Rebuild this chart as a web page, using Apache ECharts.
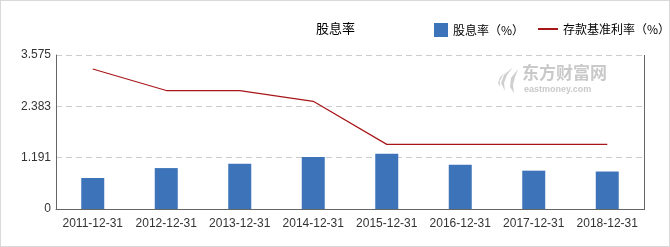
<!DOCTYPE html>
<html>
<head>
<meta charset="utf-8">
<script src="https://cdn.jsdelivr.net/npm/echarts@6/dist/echarts.min.js"></script>
<style>
  html, body { margin: 0; padding: 0; background: #fff; }
  #wrap { width: 668px; height: 245px; border: 1px solid #d9d9d9; }
  #chart { width: 668px; height: 245px; }
</style>
</head>
<body>
<div id="wrap"><div id="chart"></div></div>
<script>
const categories = ['2011-12-31','2012-12-31','2013-12-31','2014-12-31','2015-12-31','2016-12-31','2017-12-31','2018-12-31'];
const dividendYield = [0.72, 0.95, 1.05, 1.21, 1.28, 1.03, 0.89, 0.87];
const depositRate = [3.25, 2.75, 2.75, 2.5, 1.5, 1.5, 1.5, 1.5];
const yTickLabels = ['0', '1.191', '2.383', '3.575'];
const yMax = 3.575;

const chart = echarts.init(document.getElementById('chart'), null, { renderer: 'canvas' });
const font = '"Noto Sans CJK SC", "Noto Sans", sans-serif';
chart.setOption({
  animation: false,
  title: {
    text: '股息率', left: 310, top: 16,
    textStyle: { fontSize: 13, fontWeight: 'normal', color: '#000', fontFamily: font }
  },
  legend: [
    {
      left: 428, top: 17, itemWidth: 14, itemHeight: 14, icon: 'rect',
      textStyle: { fontSize: 12, color: '#000', fontFamily: font },
      data: ['股息率（%）']
    },
    {
      left: 532, top: 17, itemWidth: 20, itemHeight: 2, icon: 'rect',
      textStyle: { fontSize: 12, color: '#000', fontFamily: font },
      data: ['存款基准利率（%）']
    }
  ],
  grid: { left: 55, right: 25, top: 54, bottom: 37, containLabel: false },
  xAxis: {
    type: 'category', data: categories, boundaryGap: true,
    axisLine: { lineStyle: { color: '#666', width: 1 } },
    axisTick: { show: false },
    axisLabel: { interval: 0, color: '#333', fontSize: 12, margin: 9, fontFamily: 'Arial, "Liberation Sans", sans-serif' }
  },
  yAxis: {
    type: 'value', min: 0, max: yMax, interval: yMax / 3,
    axisLine: { show: true, lineStyle: { color: '#666', width: 1 } },
    axisTick: { show: false },
    axisLabel: {
      color: '#333', fontSize: 12, margin: 5, fontFamily: 'Arial, "Liberation Sans", sans-serif',
      formatter: function (v, i) { return yTickLabels[i] !== undefined ? yTickLabels[i] : ''; }
    },
    splitLine: { show: true, lineStyle: { color: '#ccc', type: [6, 4], width: 1 } }
  },
  graphic: [
    { type: 'line', shape: { x1: 643.5, y1: 54, x2: 643.5, y2: 209 }, style: { stroke: '#666', lineWidth: 1 }, z: 0 },
    { type: 'text', x: 521, y: 63, style: { text: '东方财富网', fill: '#c9c9c9', fontSize: 17, fontWeight: 'bold', fontFamily: font } },
    { type: 'text', x: 523, y: 84, style: { text: 'eastmoney.com', fill: '#c9c9c9', fontSize: 9, fontWeight: 'bold', fontFamily: 'Arial, sans-serif' } },
    { type: 'polygon', shape: { points: [[512,66],[503,74],[500,82],[504,90],[503,82],[506,74]] }, style: { fill: '#cfcfcf' } },
    { type: 'polygon', shape: { points: [[517,68],[510,77],[509,86],[513,92],[512,84],[514,76]] }, style: { fill: '#cfcfcf' } },
    { type: 'polygon', shape: { points: [[506,70],[499,76],[497,82],[499,86],[499,80],[502,74]] }, style: { fill: '#d6d6d6' } }
  ],
  series: [
    {
      name: '股息率（%）', type: 'bar', data: dividendYield, barWidth: 23,
      itemStyle: { color: '#3d73b8' }
    },
    {
      name: '存款基准利率（%）', type: 'line', data: depositRate, showSymbol: false, symbol: 'none',
      lineStyle: { color: '#a8161a', width: 1.2 }, itemStyle: { color: '#a8161a' }
    }
  ]
});
</script>
</body>
</html>
